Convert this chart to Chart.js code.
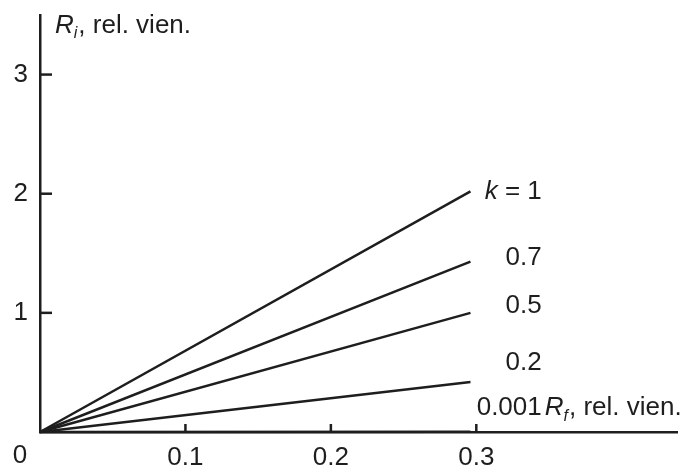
<!DOCTYPE html>
<html>
<head>
<meta charset="utf-8">
<script src="https://cdn.jsdelivr.net/npm/chart.js@4"></script>
<style>
    html, body {margin: 0; padding: 0; background: #fff;}
</style>
</head>
<body>
<canvas id="lineChart" width="686" height="466"></canvas>
<script>
// R_f at the start and end of every line
const rfValues = [0, 0.296]
// k of each line and the R_i reached at the end
const kLabels = ["1", "0.7", "0.5", "0.2", "0.001"]
const riEnd = [2.02, 1.43, 1.0, 0.42, 0.003]
const xTicks = [0.1, 0.2, 0.3]
const yTicks = [1, 2, 3]

const FONT = "'Liberation Sans', Arial, sans-serif"
const SIZE = 26
const INK = "#1e1e1e"

// where the k labels sit (right edge, in data units)
const labelX = 0.345
const labelY = [2.02, 1.46, 1.06, 0.58, 0.2]

const drawRich = (ctx, x, y, parts) => {
    ctx.textBaseline = "middle"
    ctx.textAlign = "left"
    parts.forEach(p => {
        const size = p.sub ? 16 : SIZE
        ctx.font = `${p.italic ? "italic " : ""}${size}px ${FONT}`
        ctx.fillText(p.t, x, y + (p.sub ? 8 : 0))
        x += ctx.measureText(p.t).width + (p.gap || 0)
    })
    return x
}

const decor = {
    id: "decor",
    afterDraw(chart) {
        const {ctx, chartArea, scales: {x, y}} = chart
        ctx.save()
        ctx.strokeStyle = INK
        ctx.fillStyle = INK
        ctx.lineWidth = 2.5
        // inward ticks
        yTicks.forEach(v => {
            const py = y.getPixelForValue(v)
            ctx.beginPath()
            ctx.moveTo(chartArea.left, py)
            ctx.lineTo(chartArea.left + 12, py)
            ctx.stroke()
        })
        xTicks.forEach(v => {
            const px = x.getPixelForValue(v)
            ctx.beginPath()
            ctx.moveTo(px, chartArea.bottom)
            ctx.lineTo(px, chartArea.bottom - 8)
            ctx.stroke()
        })
        // origin label
        ctx.font = `${SIZE}px ${FONT}`
        ctx.textAlign = "center"
        ctx.textBaseline = "middle"
        ctx.fillText("0", x.getPixelForValue(0) - 20, chartArea.bottom + 24)

        // line labels
        kLabels.forEach((k, i) => {
            const px = x.getPixelForValue(labelX)
            const py = y.getPixelForValue(labelY[i])
            ctx.font = `${SIZE}px ${FONT}`
            ctx.textAlign = "right"
            ctx.textBaseline = "middle"
            if (i === 0) {
                const w = ctx.measureText(" = " + k).width
                ctx.fillText(" = " + k, px, py)
                ctx.font = `italic ${SIZE}px ${FONT}`
                ctx.fillText("k", px - w, py)
            } else {
                ctx.fillText(k, px, py)
            }
        })

        // axis titles
        drawRich(ctx, x.getPixelForValue(labelX) + 3, y.getPixelForValue(labelY[4]), [
            {t: "R", italic: true},
            {t: "f", italic: true, sub: true, gap: 1},
            {t: ", rel. vien."}
        ])
        drawRich(ctx, chartArea.left + 15, 26, [
            {t: "R", italic: true},
            {t: "i", italic: true, sub: true, gap: 1},
            {t: ", rel. vien."}
        ])
        ctx.restore()
    }
}

new Chart("lineChart", {
    type: "scatter",
    data: {
        datasets: kLabels.map((k, i) => ({
            label: k,
            showLine: true,
            borderColor: INK,
            borderWidth: 2.5,
            pointRadius: 0,
            clip: false,
            data: rfValues.map((v, j) => ({x: v, y: j === 0 ? 0 : riEnd[i]}))
        }))
    },
    options: {
        responsive: false,
        animation: false,
        layout: {padding: {top: 15, right: 9, left: 0, bottom: 0}},
        plugins: {legend: {display: false}, tooltip: {enabled: false}},
        scales: {
            x: {
                type: "linear",
                min: 0,
                max: 0.438,
                afterFit: s => { s.height = 34; s.paddingLeft = 0; s.paddingRight = 0 },
                afterBuildTicks: s => { s.ticks = xTicks.map(v => ({value: v})) },
                grid: {display: false, drawTicks: false},
                border: {color: INK, width: 2.5},
                ticks: {
                    color: INK,
                    padding: 10,
                    maxRotation: 0,
                    font: {size: SIZE, family: FONT},
                    callback: v => v.toFixed(1)
                }
            },
            y: {
                min: 0,
                max: 3.5,
                afterFit: s => { s.width = 40; s.paddingTop = 0; s.paddingBottom = 0 },
                afterBuildTicks: s => { s.ticks = yTicks.map(v => ({value: v})) },
                grid: {display: false, drawTicks: false},
                border: {color: INK, width: 2.5},
                ticks: {
                    color: INK,
                    padding: 12,
                    font: {size: SIZE, family: FONT}
                }
            }
        }
    },
    plugins: [decor]
})
</script>
</body>
</html>
